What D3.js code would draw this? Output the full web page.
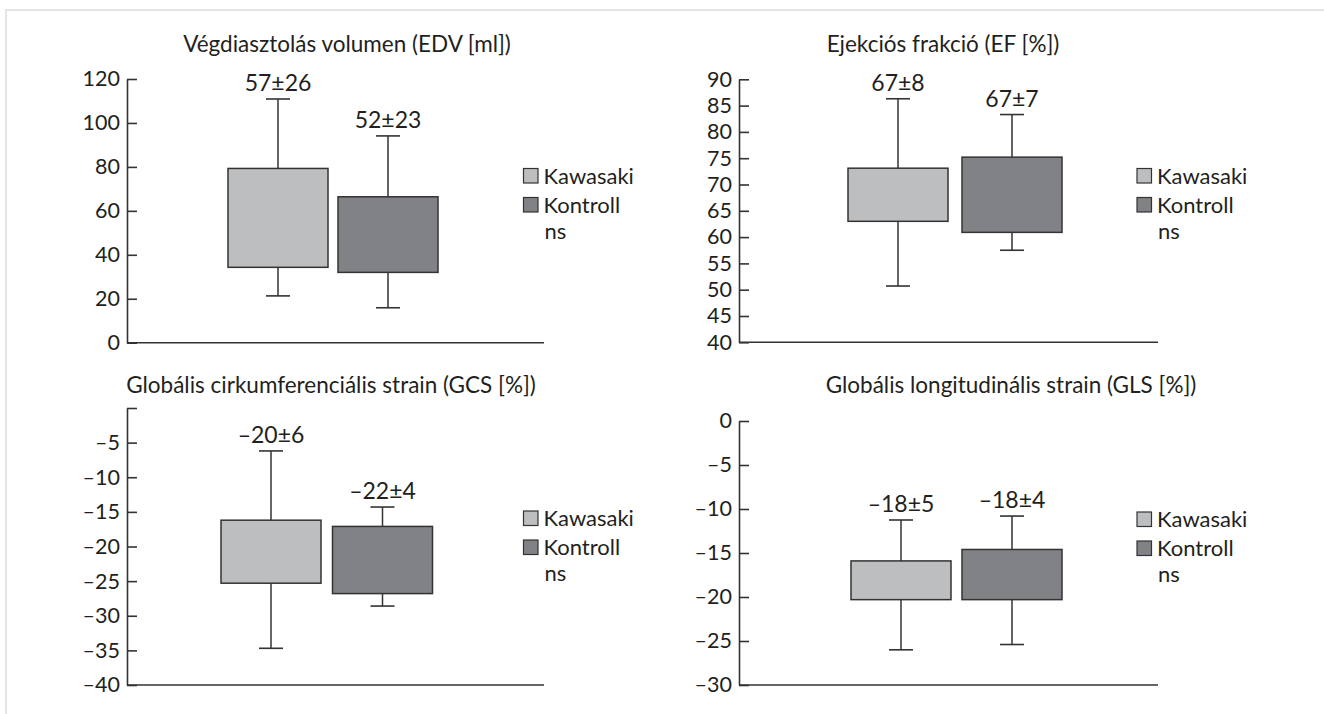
<!DOCTYPE html>
<html>
<head>
<meta charset="utf-8">
<script src="https://cdn.jsdelivr.net/npm/d3@7"></script>
<style>
  html, body { margin: 0; padding: 0; background: #fff; }
  svg text { font-family: Lato, "Open Sans", sans-serif; fill: #231f20; }
</style>
</head>
<body>
<svg id="chart" width="1324" height="714"></svg>
<script>
// ---------- data ----------
const groups = ["Kawasaki", "Kontroll"];
const titles = [
  "Végdiasztolás volumen (EDV [ml])",
  "Ejekciós frakció (EF [%])",
  "Globális cirkumferenciális strain (GCS [%])",
  "Globális longitudinális strain (GLS [%])"
];

// EDV
const edvBoxLow  = [34.3, 32.0];
const edvBoxHigh = [79.3, 66.4];
const edvMin     = [21.3, 15.9];
const edvMax     = [110.9, 94.1];
const edvLabels  = ["57±26", "52±23"];
const edvTicks   = [0, 20, 40, 60, 80, 100, 120];
const edvTickLabels = ["0", "20", "40", "60", "80", "100", "120"];

// EF
const efBoxLow  = [63.0, 60.9];
const efBoxHigh = [73.1, 75.2];
const efMin     = [50.7, 57.5];
const efMax     = [86.3, 83.3];
const efLabels  = ["67±8", "67±7"];
const efTicks   = [40, 45, 50, 55, 60, 65, 70, 75, 80, 85, 90];
const efTickLabels = ["40", "45", "50", "55", "60", "65", "70", "75", "80", "85", "90"];

// GCS
const gcsBoxLow  = [-25.3, -26.8];
const gcsBoxHigh = [-16.2, -17.1];
const gcsMin     = [-34.7, -28.6];
const gcsMax     = [-6.2, -14.3];
const gcsLabels  = ["–20±6", "–22±4"];
const gcsTicks   = [0, -5, -10, -15, -20, -25, -30, -35, -40];
const gcsTickLabels = ["", "–5", "–10", "–15", "–20", "–25", "–30", "–35", "–40"];

// GLS
const glsBoxLow  = [-20.3, -20.3];
const glsBoxHigh = [-15.9, -14.6];
const glsMin     = [-26.0, -25.4];
const glsMax     = [-11.25, -10.8];
const glsLabels  = ["–18±5", "–18±4"];
const glsTicks   = [0, -5, -10, -15, -20, -25, -30];
const glsTickLabels = ["0", "–5", "–10", "–15", "–20", "–25", "–30"];

const legendNote = "ns";
const fills = ["#bcbec0", "#808285"];

// ---------- panels (data refs + layout) ----------
const panels = [
  { title: titles[0], domain: [0, 120], low: edvBoxLow, high: edvBoxHigh, min: edvMin, max: edvMax,
    labels: edvLabels, ticks: edvTicks, tickLabels: edvTickLabels,
    ax: 127, xEnd: 544, yTop: 79, yBot: 342.7, bx0: 228, step: 110, bw: 100,
    tx: 347, ty: 52, lx: 523.5, ly: 168.5 },
  { title: titles[1], domain: [40, 90], low: efBoxLow, high: efBoxHigh, min: efMin, max: efMax,
    labels: efLabels, ticks: efTicks, tickLabels: efTickLabels,
    ax: 739, xEnd: 1158, yTop: 79.3, yBot: 342.3, bx0: 848, step: 114, bw: 100,
    tx: 943, ty: 52, lx: 1137, ly: 168.5 },
  { title: titles[2], domain: [-40, 0], low: gcsBoxLow, high: gcsBoxHigh, min: gcsMin, max: gcsMax,
    labels: gcsLabels, ticks: gcsTicks, tickLabels: gcsTickLabels,
    ax: 127, xEnd: 544, yTop: 408, yBot: 685, bx0: 221, step: 111.5, bw: 100,
    tx: 331, ty: 393, lx: 523.5, ly: 511 },
  { title: titles[3], domain: [-30, 0], low: glsBoxLow, high: glsBoxHigh, min: glsMin, max: glsMax,
    labels: glsLabels, ticks: glsTicks, tickLabels: glsTickLabels,
    ax: 739, xEnd: 1158, yTop: 421, yBot: 685, bx0: 851, step: 111, bw: 100,
    tx: 1011, ty: 393, lx: 1137, ly: 512 }
];

const svg = d3.select("#chart");

// light frame
svg.append("line").attr("x1", 5).attr("x2", 1324).attr("y1", 10).attr("y2", 10)
  .attr("stroke", "#e4e4e4").attr("stroke-width", 2);
svg.append("line").attr("x1", 6).attr("x2", 6).attr("y1", 9).attr("y2", 714)
  .attr("stroke", "#e4e4e4").attr("stroke-width", 2);

const ink = "#333333";

panels.forEach(p => {
  const g = svg.append("g");
  const y = d3.scaleLinear().domain(p.domain).range([p.yBot, p.yTop]);
  const pi = (p.step - p.bw) / p.step;
  const x = d3.scaleBand().domain(groups)
    .range([p.bx0, p.bx0 + p.step + p.bw]).paddingInner(pi).paddingOuter(0);

  // title
  g.append("text").attr("x", p.tx).attr("y", p.ty).attr("text-anchor", "middle")
    .style("font-size", "22.5px").text(p.title);

  // y axis
  const yAxis = d3.axisLeft(y).tickValues(p.ticks)
    .tickFormat((d, i) => p.tickLabels[i])
    .tickSizeInner(-10).tickSizeOuter(0).tickPadding(7);
  const ya = g.append("g").attr("transform", `translate(${p.ax},0)`).call(yAxis);
  ya.select(".domain").attr("stroke", ink).attr("stroke-width", 1.6);
  ya.selectAll(".tick line").attr("stroke", ink).attr("stroke-width", 1.6);
  ya.selectAll(".tick text").style("font-size", "21.5px").attr("fill", "#231f20")
    .style("font-family", "Lato, 'Open Sans', sans-serif");

  // x baseline
  g.append("line").attr("x1", p.ax).attr("x2", p.xEnd)
    .attr("y1", y(p.domain[0])).attr("y2", y(p.domain[0]))
    .attr("stroke", ink).attr("stroke-width", 1.6);

  groups.forEach((grp, i) => {
    const cx = x(grp) + x.bandwidth() / 2;
    const capW = 24;
    // whisker lines
    g.append("line").attr("x1", cx).attr("x2", cx)
      .attr("y1", y(p.max[i])).attr("y2", y(p.min[i]))
      .attr("stroke", ink).attr("stroke-width", 1.5);
    [p.max[i], p.min[i]].forEach(v => {
      g.append("line").attr("x1", cx - capW / 2).attr("x2", cx + capW / 2)
        .attr("y1", y(v)).attr("y2", y(v))
        .attr("stroke", ink).attr("stroke-width", 1.6);
    });
    // box
    g.append("rect").attr("x", x(grp)).attr("width", x.bandwidth())
      .attr("y", y(p.high[i])).attr("height", y(p.low[i]) - y(p.high[i]))
      .attr("fill", fills[i]).attr("stroke", ink).attr("stroke-width", 1.5);
    // value label
    g.append("text").attr("x", cx).attr("y", y(p.max[i]) - 8)
      .attr("text-anchor", "middle").style("font-size", "23px").text(p.labels[i]);
  });

  // legend
  groups.forEach((grp, i) => {
    const yy = p.ly + i * 29;
    g.append("rect").attr("x", p.lx).attr("y", yy).attr("width", 14.5).attr("height", 14.5)
      .attr("fill", fills[i]).attr("stroke", ink).attr("stroke-width", 1.2);
    g.append("text").attr("x", p.lx + 20).attr("y", yy + 15)
      .style("font-size", "22px").text(grp);
  });
  g.append("text").attr("x", p.lx + 21).attr("y", p.ly + 70)
    .style("font-size", "22px").text(legendNote);
});
</script>
</body>
</html>
